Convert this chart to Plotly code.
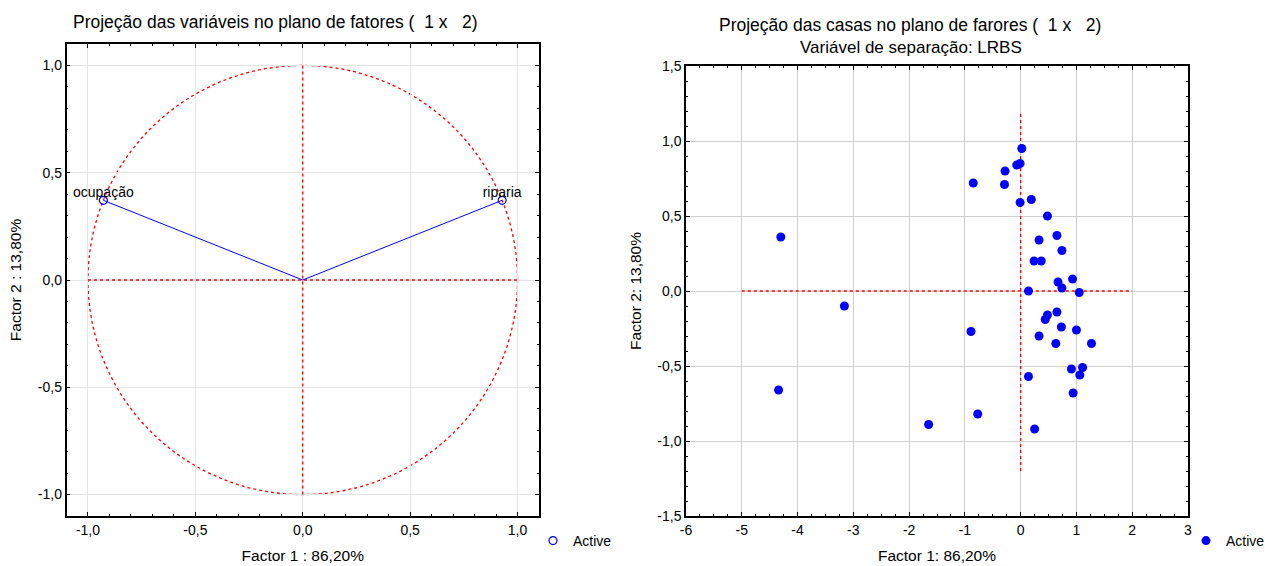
import plotly.graph_objects as go

# ---------------- data ----------------
var_names = ["ocupação", "riparia"]
var_f1 = [-0.9284, 0.9284]
var_f2 = [0.3715, 0.3715]

case_f1 = [0.02, -0.01, -0.07, -0.28, -0.85, -0.29, -0.01, 0.19, 0.48, -4.30,
           0.65, 0.33, 0.74, 0.24, 0.37, 0.93, 0.67, 0.74, 0.14, 1.05,
           -3.16, 0.65, 0.48, 0.44, 0.73, -0.89, 1.00, 0.33, 0.63, 1.27,
           1.11, 0.91, 1.06, 0.14, -4.34, 0.94, -0.77, -1.65, 0.25]
case_f2 = [0.95, 0.85, 0.84, 0.80, 0.72, 0.71, 0.59, 0.61, 0.50, 0.36,
           0.37, 0.34, 0.27, 0.20, 0.20, 0.08, 0.06, 0.02, 0.00, -0.01,
           -0.10, -0.14, -0.16, -0.19, -0.24, -0.27, -0.26, -0.30, -0.35, -0.35,
           -0.51, -0.52, -0.56, -0.57, -0.66, -0.68, -0.82, -0.89, -0.92]

left_ticks = [-1.0, -0.5, 0.0, 0.5, 1.0]
left_ticktext = ["-1,0", "-0,5", "0,0", "0,5", "1,0"]
right_xticks = [-6, -5, -4, -3, -2, -1, 0, 1, 2, 3]
right_xticktext = ["-6", "-5", "-4", "-3", "-2", "-1", "0", "1", "2", "3"]
right_yticks = [-1.5, -1.0, -0.5, 0.0, 0.5, 1.0, 1.5]
right_yticktext = ["-1,5", "-1,0", "-0,5", "0,0", "0,5", "1,0", "1,5"]

title_left = "Projeção das variáveis no plano de fatores (\u00a0\u00a01 x \u00a0\u00a02)"
title_right = "Projeção das casas no plano de farores (\u00a0\u00a01 x \u00a0\u00a02)"
subtitle_right = "Variável de separação: LRBS"

W, H = 1265, 566
FONT = "Liberation Sans, Arial, sans-serif"

fig = go.Figure()

RED = dict(color="red", width=1.3, dash="dot")

# ---------- left: variables ----------
fig.add_trace(go.Scatter(x=[-1, 1], y=[0, 0], mode="lines", line=RED,
                         showlegend=False, hoverinfo="skip", xaxis="x", yaxis="y"))
fig.add_trace(go.Scatter(x=[0, 0], y=[-1, 1], mode="lines", line=RED,
                         showlegend=False, hoverinfo="skip", xaxis="x", yaxis="y"))
fig.add_shape(type="circle", xref="x", yref="y", x0=-1, y0=-1, x1=1, y1=1,
              line=RED, layer="below")

for xi, yi in zip(var_f1, var_f2):
    fig.add_trace(go.Scatter(x=[0, xi], y=[0, yi], mode="lines",
                             line=dict(color="blue", width=1),
                             showlegend=False, hoverinfo="skip", xaxis="x", yaxis="y"))

fig.add_trace(go.Scatter(x=var_f1, y=var_f2, mode="markers", name="Active",
                         marker=dict(symbol="circle-open", color="blue", size=8,
                                     line=dict(width=1.2, color="blue")),
                         legend="legend", xaxis="x", yaxis="y"))
fig.add_trace(go.Scatter(x=var_f1, y=var_f2, mode="text", text=var_names,
                         textposition="top center",
                         textfont=dict(family=FONT, size=14, color="black"),
                         showlegend=False, hoverinfo="skip", xaxis="x", yaxis="y"))

# ---------- right: cases ----------
fig.add_trace(go.Scatter(x=[-5, 2], y=[0, 0], mode="lines", line=RED,
                         showlegend=False, hoverinfo="skip", xaxis="x2", yaxis="y2"))
fig.add_trace(go.Scatter(x=[0, 0], y=[-1.2, 1.2], mode="lines", line=RED,
                         showlegend=False, hoverinfo="skip", xaxis="x2", yaxis="y2"))
fig.add_trace(go.Scatter(x=case_f1, y=case_f2, mode="markers", name="Active",
                         marker=dict(symbol="circle", color="blue", size=9),
                         legend="legend2", xaxis="x2", yaxis="y2"))

# ---------- axes ----------
def px_x(p):
    return p / W

def px_y(p):
    return 1 - p / H

tickfont = dict(family=FONT, size=14, color="black")
titlefont = dict(family=FONT, size=15.5, color="black")

common = dict(showline=True, linecolor="black", linewidth=1.5, mirror="ticks",
              ticks="inside", ticklen=4, tickcolor="black", tickwidth=1,
              zeroline=False, tickfont=tickfont, fixedrange=True)

fig.update_layout(
    xaxis=dict(domain=[px_x(66.5), px_x(539)], range=[-1.1, 1.1],
               tickvals=left_ticks, ticktext=left_ticktext,
               showgrid=True, gridcolor="#e4e4e4", gridwidth=1,
               minor=dict(dtick=0.1, ticks="inside", ticklen=2, tickcolor="black", showgrid=False),
               title=dict(text="Factor 1 : 86,20%", font=titlefont, standoff=14),
               anchor="y", **common),
    yaxis=dict(domain=[px_y(516), px_y(44)], range=[-1.1, 1.1],
               tickvals=left_ticks, ticktext=left_ticktext,
               showgrid=True, gridcolor="#e4e4e4", gridwidth=1,
               minor=dict(dtick=0.1, ticks="inside", ticklen=2, tickcolor="black", showgrid=False),
               title=dict(text="Factor 2 : 13,80%", font=titlefont, standoff=12),
               anchor="x", **common),
    xaxis2=dict(domain=[px_x(686), px_x(1188)], range=[-6, 3],
                tickvals=right_xticks, ticktext=right_xticktext,
                showgrid=True, gridcolor="#cfcfcf", gridwidth=1,
                minor=dict(dtick=0.25, ticks="inside", ticklen=2, tickcolor="black", showgrid=False),
                title=dict(text="Factor 1: 86,20%", font=titlefont, standoff=14),
                anchor="y2", **common),
    yaxis2=dict(domain=[px_y(516), px_y(66)], range=[-1.5, 1.5],
                tickvals=right_yticks, ticktext=right_yticktext,
                showgrid=True, gridcolor="#cfcfcf", gridwidth=1,
                minor=dict(dtick=0.1, ticks="inside", ticklen=2, tickcolor="black", showgrid=False),
                title=dict(text="Factor 2: 13,80%", font=titlefont, standoff=12),
                anchor="x2", **common),
)

fig.update_layout(
    width=W, height=H,
    margin=dict(l=0, r=0, t=0, b=0, autoexpand=False),
    paper_bgcolor="white", plot_bgcolor="white",
    separators=",.",
    font=dict(family=FONT, size=14, color="black"),
    legend=dict(x=px_x(533), y=px_y(541), xanchor="left", yanchor="middle",
                bgcolor="rgba(0,0,0,0)", font=dict(family=FONT, size=14)),
    legend2=dict(x=px_x(1186), y=px_y(541), xanchor="left", yanchor="middle",
                 bgcolor="rgba(0,0,0,0)", font=dict(family=FONT, size=14)),
    annotations=[
        dict(text=title_left, x=px_x(275), y=px_y(22), xref="paper", yref="paper",
             showarrow=False, font=dict(family=FONT, size=17.5, color="black"),
             xanchor="center", yanchor="middle"),
        dict(text=title_right, x=px_x(910), y=px_y(25), xref="paper", yref="paper",
             showarrow=False, font=dict(family=FONT, size=17.5, color="black"),
             xanchor="center", yanchor="middle"),
        dict(text=subtitle_right, x=px_x(911), y=px_y(47), xref="paper", yref="paper",
             showarrow=False, font=dict(family=FONT, size=17, color="black"),
             xanchor="center", yanchor="middle"),
    ],
)

fig.write_html("out.html", config={"displayModeBar": False},
               post_script="document.body.style.margin='0';document.body.style.overflow='hidden';")
